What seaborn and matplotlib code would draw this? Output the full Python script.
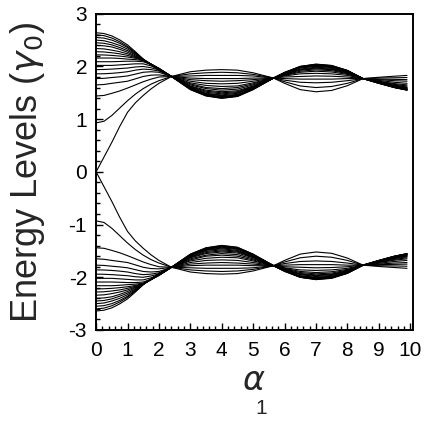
import numpy as np
import pandas as pd
import seaborn as sns
import matplotlib.pyplot as plt
from matplotlib.ticker import MultipleLocator


# --------------------------------------------------
# data: upper band levels
# (lower band is the mirror image, -E)
# --------------------------------------------------

alpha = [0.0, 0.25, 0.5, 0.75, 1.0, 1.25, 1.5, 1.75, 2.0, 2.4, 3.0, 3.5,
         4.0, 4.5, 5.0, 5.65, 6.0, 6.5, 7.0, 7.5, 8.0, 8.5, 9.0, 9.5, 9.9]

level_00 = [2.64, 2.625, 2.58, 2.505, 2.41, 2.28, 2.14, 2.03, 1.93, 1.81, 1.56, 1.44, 1.395, 1.43, 1.56, 1.78, 1.89, 2.00, 2.045, 2.02, 1.925, 1.77, 1.68, 1.60, 1.55]
level_01 = [2.60, 2.585, 2.54, 2.47, 2.38, 2.265, 2.14, 2.03, 1.935, 1.81, 1.565, 1.445, 1.40, 1.435, 1.565, 1.78, 1.88, 2.00, 2.04, 2.015, 1.925, 1.77, 1.68, 1.60, 1.552]
level_02 = [2.55, 2.538, 2.50, 2.44, 2.36, 2.25, 2.135, 2.035, 1.94, 1.81, 1.57, 1.45, 1.41, 1.44, 1.57, 1.78, 1.88, 2.00, 2.035, 2.01, 1.92, 1.77, 1.685, 1.60, 1.555]
level_03 = [2.50, 2.488, 2.45, 2.40, 2.33, 2.235, 2.135, 2.04, 1.945, 1.81, 1.575, 1.46, 1.42, 1.45, 1.575, 1.78, 1.88, 1.99, 2.03, 2.005, 1.92, 1.77, 1.685, 1.605, 1.558]
level_04 = [2.45, 2.44, 2.41, 2.36, 2.30, 2.22, 2.13, 2.04, 1.95, 1.81, 1.58, 1.47, 1.43, 1.46, 1.58, 1.78, 1.88, 1.99, 2.025, 2.00, 1.915, 1.77, 1.685, 1.605, 1.56]
level_05 = [2.40, 2.392, 2.37, 2.325, 2.27, 2.20, 2.13, 2.045, 1.955, 1.81, 1.59, 1.48, 1.445, 1.47, 1.59, 1.78, 1.88, 1.98, 2.02, 1.995, 1.91, 1.77, 1.69, 1.61, 1.565]
level_06 = [2.34, 2.333, 2.31, 2.28, 2.24, 2.185, 2.125, 2.045, 1.96, 1.81, 1.60, 1.49, 1.46, 1.49, 1.60, 1.78, 1.87, 1.98, 2.01, 1.99, 1.905, 1.77, 1.69, 1.615, 1.57]
level_07 = [2.28, 2.275, 2.26, 2.24, 2.21, 2.17, 2.125, 2.045, 1.96, 1.81, 1.61, 1.51, 1.48, 1.505, 1.61, 1.78, 1.87, 1.97, 2.00, 1.98, 1.90, 1.77, 1.69, 1.62, 1.575]
level_08 = [2.22, 2.218, 2.21, 2.197, 2.18, 2.155, 2.12, 2.045, 1.965, 1.81, 1.62, 1.53, 1.50, 1.52, 1.62, 1.78, 1.86, 1.95, 1.985, 1.965, 1.895, 1.77, 1.695, 1.62, 1.58]
level_09 = [2.16, 2.16, 2.16, 2.152, 2.14, 2.13, 2.11, 2.04, 1.965, 1.81, 1.63, 1.55, 1.52, 1.54, 1.63, 1.78, 1.86, 1.94, 1.97, 1.95, 1.885, 1.77, 1.70, 1.63, 1.59]
level_10 = [2.09, 2.09, 2.09, 2.095, 2.10, 2.10, 2.09, 2.035, 1.96, 1.81, 1.65, 1.58, 1.55, 1.57, 1.65, 1.78, 1.85, 1.93, 1.955, 1.94, 1.875, 1.77, 1.70, 1.64, 1.60]
level_11 = [2.02, 2.02, 2.02, 2.03, 2.04, 2.05, 2.05, 2.01, 1.95, 1.81, 1.67, 1.60, 1.58, 1.60, 1.67, 1.78, 1.84, 1.91, 1.935, 1.92, 1.865, 1.77, 1.705, 1.645, 1.61]
level_12 = [1.94, 1.943, 1.95, 1.96, 1.97, 1.99, 2.00, 1.975, 1.935, 1.81, 1.69, 1.64, 1.62, 1.63, 1.69, 1.78, 1.83, 1.89, 1.91, 1.895, 1.85, 1.77, 1.715, 1.66, 1.63]
level_13 = [1.86, 1.862, 1.87, 1.883, 1.90, 1.93, 1.95, 1.94, 1.915, 1.81, 1.72, 1.68, 1.67, 1.68, 1.72, 1.78, 1.82, 1.86, 1.87, 1.86, 1.83, 1.77, 1.72, 1.675, 1.65]
level_14 = [1.77, 1.775, 1.79, 1.803, 1.82, 1.855, 1.89, 1.90, 1.89, 1.81, 1.75, 1.73, 1.72, 1.73, 1.75, 1.78, 1.80, 1.81, 1.82, 1.815, 1.80, 1.77, 1.735, 1.70, 1.68]
level_15 = [1.65, 1.658, 1.68, 1.70, 1.72, 1.765, 1.81, 1.835, 1.84, 1.81, 1.78, 1.77, 1.77, 1.77, 1.78, 1.78, 1.77, 1.76, 1.76, 1.76, 1.77, 1.77, 1.75, 1.73, 1.72]
level_16 = [1.44, 1.45, 1.49, 1.535, 1.59, 1.65, 1.71, 1.76, 1.80, 1.81, 1.82, 1.83, 1.83, 1.83, 1.82, 1.78, 1.74, 1.70, 1.69, 1.70, 1.73, 1.77, 1.76, 1.755, 1.75]
level_17 = [0.93, 0.96, 1.07, 1.21, 1.35, 1.475, 1.58, 1.665, 1.73, 1.81, 1.86, 1.88, 1.89, 1.88, 1.85, 1.78, 1.71, 1.63, 1.60, 1.62, 1.68, 1.77, 1.78, 1.785, 1.79]
level_18 = [0.00, 0.28, 0.56, 0.86, 1.13, 1.31, 1.45, 1.575, 1.68, 1.81, 1.90, 1.93, 1.94, 1.93, 1.88, 1.78, 1.68, 1.56, 1.52, 1.545, 1.635, 1.77, 1.795, 1.815, 1.83]

upper_band = [level_00, level_01, level_02, level_03, level_04, level_05,
              level_06, level_07, level_08, level_09, level_10, level_11,
              level_12, level_13, level_14, level_15, level_16, level_17,
              level_18]

x_ticks = [0, 1, 2, 3, 4, 5, 6, 7, 8, 9, 10]
y_ticks = [-3, -2, -1, 0, 1, 2, 3]


# --------------------------------------------------
# long-form table, one unit per curve
# --------------------------------------------------

rows = []
for k, level in enumerate(upper_band):
    for a, e in zip(alpha, level):
        rows.append({"alpha": a, "energy": e, "curve": f"u{k}"})
        rows.append({"alpha": a, "energy": -e, "curve": f"l{k}"})
df = pd.DataFrame(rows)


# --------------------------------------------------
# plot
# --------------------------------------------------

sns.set_style("white")
plt.rcParams["font.family"] = ["Liberation Sans", "DejaVu Sans"]
plt.rcParams["mathtext.fontset"] = "dejavusans"
plt.rcParams["axes.unicode_minus"] = False

fig = plt.figure(figsize=(4.31, 4.30), dpi=100)
ax = fig.add_axes([0.223, 0.2326, 0.7345, 0.7354])

sns.lineplot(
    data=df,
    x="alpha",
    y="energy",
    units="curve",
    estimator=None,
    sort=False,
    color="black",
    linewidth=0.8,
    legend=False,
    ax=ax,
)

ax.set_xlim(0, 10.08)
ax.set_ylim(-3, 3)
ax.set_xticks(x_ticks)
ax.set_yticks(y_ticks)
ax.xaxis.set_minor_locator(MultipleLocator(0.2))
ax.yaxis.set_minor_locator(MultipleLocator(0.2))
ax.tick_params(which="both", direction="in", bottom=True, left=True,
               top=False, right=False, labelsize=15, width=1,
               colors="black")
ax.tick_params(which="major", length=5)
ax.tick_params(which="minor", length=3)
ax.tick_params(axis="x", which="major", pad=8)
ax.tick_params(axis="y", which="major", pad=6.5)

for s in ax.spines.values():
    s.set_linewidth(1.4)
    s.set_color("black")

ax.set_xlabel("")
ax.set_ylabel(r"Energy Levels ($\gamma_0$)", fontsize=26)
ax.yaxis.set_label_coords(-0.155, 0.5)

fig.text(0.589, 0.112, r"$\alpha$", fontsize=24, ha="center", va="center")
fig.text(0.606, 0.051, "1", fontsize=15, ha="center", va="center")

fig.savefig("out.png", dpi=100)
